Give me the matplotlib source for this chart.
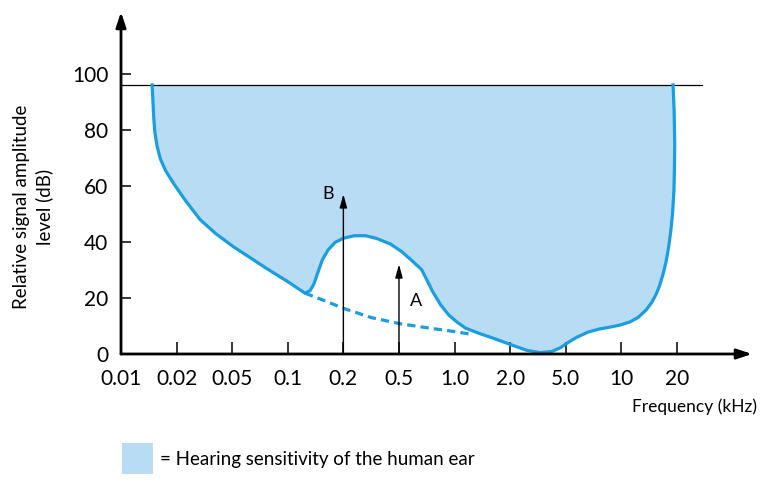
import matplotlib
matplotlib.use("Agg")
import matplotlib.pyplot as plt

plt.rcParams['font.family'] = ['Lato', 'DejaVu Sans']

# x positions are in "tick units": 0 -> 0.01 kHz, 1 -> 0.02 kHz, ... 10 -> 20 kHz
freq_labels = ['0.01', '0.02', '0.05', '0.1', '0.2', '0.5', '1.0', '2.0', '5.0', '10', '20']
db_ticks = [0, 20, 40, 60, 80, 100]

# upper edge of the hearing threshold (solid line), closes on the 96 dB line
curve_x = [0.56, 0.575, 0.59, 0.61, 0.65, 0.71, 0.80, 0.94, 1.15, 1.42, 1.70, 2.02, 2.62,
           3.00, 3.31, 3.40, 3.47, 3.54, 3.62, 3.72, 3.85, 4.00, 4.20, 4.40, 4.60, 4.85,
           5.05, 5.25, 5.41, 5.50, 5.60, 5.75, 5.90, 6.05, 6.20, 6.45, 6.70, 7.06, 7.30,
           7.54, 7.75, 7.90, 8.05, 8.20, 8.40, 8.60, 8.80, 8.97, 9.15, 9.30, 9.45, 9.55,
           9.63, 9.69, 9.75, 9.80, 9.85, 9.89, 9.92, 9.945, 9.955, 9.96, 9.95, 9.93]
curve_db = [96, 90, 84, 79, 74, 69.5, 65.5, 61, 55, 48, 43, 38.3, 30.5,
            25.8, 21.7, 22.6, 25, 29, 33.5, 37, 39.8, 41.3, 42.2, 42.2, 41.2, 39.2,
            36.5, 33, 30, 26.5, 22.5, 17.5, 13.8, 11.3, 9.2, 7.3, 5.6, 3.0, 1.3,
            0.5, 0.9, 2.2, 4.2, 6.0, 7.8, 8.9, 9.6, 10.3, 11.4, 13, 15.8, 18.5,
            21.5, 24.5, 28.5, 32.5, 38, 44, 50, 58, 66, 75, 86, 96]

# masked threshold (dashed)
dash_x = [3.31, 3.60, 4.00, 4.50, 5.02, 5.56, 6.00, 6.28]
dash_db = [21.7, 19.5, 16.3, 13.0, 10.8, 9.2, 8.0, 7.1]

pain_level = 96
tone_x = [4.0, 5.0]        # B, A
tone_db = [57, 32]
tone_names = ['B', 'A']

blue = '#1a9ee0'
fill_col = '#b8dcf4'

fig = plt.figure(figsize=(7.71, 4.95), dpi=100)
ax = fig.add_axes([121 / 771, (495 - 354) / 495, 631 / 771, 342 / 495])
ax.set_xlim(0, 11.35)
ax.set_ylim(0, 122)
for s in ax.spines.values():
    s.set_visible(False)

ax.fill(curve_x, curve_db, color=fill_col, lw=0, zorder=1)
ax.plot(curve_x, curve_db, color=blue, lw=2.3, zorder=3, solid_joinstyle='round')
ax.plot(dash_x, dash_db, color=blue, lw=2.3, dashes=(2.6, 1.6), zorder=3)
ax.plot([0, 10.45], [pain_level, pain_level], color='k', lw=0.9, zorder=2)

# axes with arrow heads
arrow = dict(arrowstyle='-|>,head_length=0.9,head_width=0.3', color='k', lw=2,
             shrinkA=0, shrinkB=0)
ax.annotate('', xy=(0, 122), xytext=(0, 0), arrowprops=arrow, annotation_clip=False)
ax.annotate('', xy=(11.35, 0), xytext=(0, 0), arrowprops=arrow, annotation_clip=False)

# tone arrows
tone_arrow = dict(arrowstyle='-|>,head_length=0.8,head_width=0.22', color='k', lw=1,
                  shrinkA=0, shrinkB=0)
for x, y, name in zip(tone_x, tone_db, tone_names):
    ax.annotate('', xy=(x, y), xytext=(x, 0), arrowprops=tone_arrow)
ax.text(3.73, 57, 'B', fontsize=13, ha='center', va='center')
ax.text(5.3, 19, 'A', fontsize=13, ha='center', va='center')

ax.set_xticks(range(len(freq_labels)))
ax.set_xticklabels(freq_labels)
ax.set_yticks(db_ticks)
ax.tick_params(axis='x', direction='in', length=8.5, width=1.1, pad=11, labelsize=15)
ax.tick_params(axis='y', direction='in', length=7.5, width=1.1, pad=9, labelsize=15)

fig.text(33 / 771, 1 - 207 / 495, 'Relative signal amplitude\nlevel (dB)', rotation=90,
         ha='center', va='center', multialignment='center', fontsize=13.5,
         linespacing=1.3)
fig.text(757 / 771, 1 - 407 / 495, 'Frequency (kHz)', ha='right', va='center',
         fontsize=12.5)

# legend swatch
fig.patches.append(plt.Rectangle((122 / 771, 1 - 474 / 495), 31 / 771, 31 / 495,
                                 transform=fig.transFigure, color=fill_col, lw=0))
fig.text(160 / 771, 1 - 459 / 495, '= Hearing sensitivity of the human ear', ha='left',
         va='center', fontsize=13.5)

fig.savefig('out.png', dpi=100)
